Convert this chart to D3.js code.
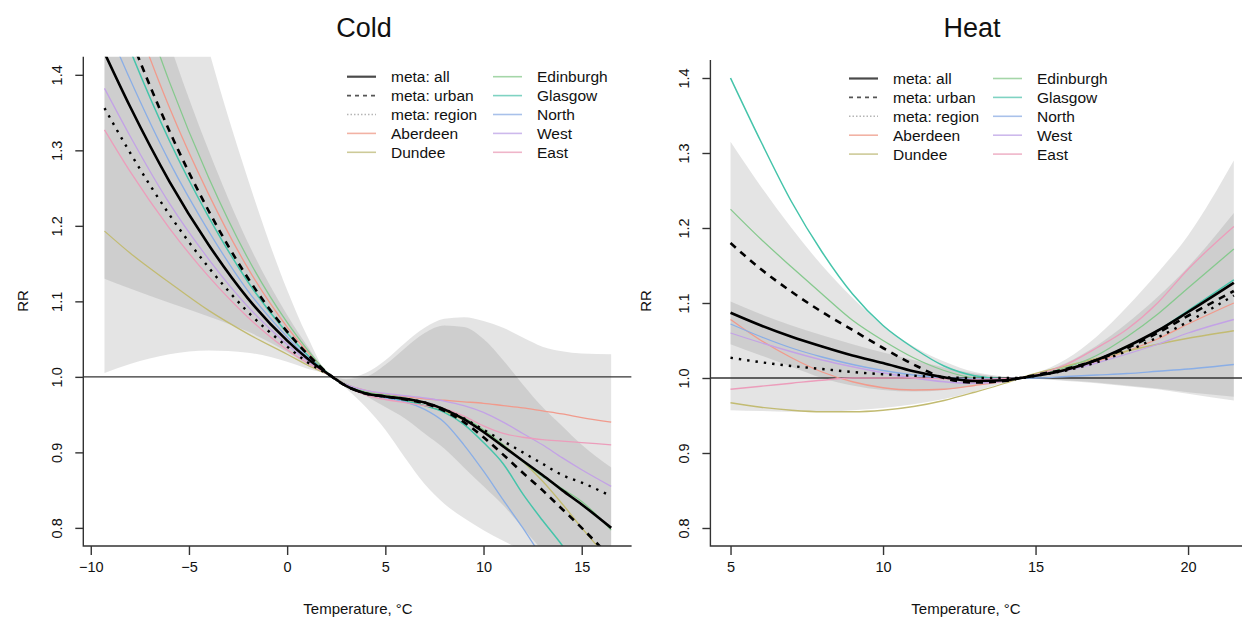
<!DOCTYPE html>
<html>
<head>
<meta charset="utf-8">
<script src="https://cdn.jsdelivr.net/npm/d3@7"></script>
<style>
  body { margin: 0; background: #fff; }
  svg { display: block; font-family: "Liberation Sans", Arial, Helvetica, sans-serif; }
</style>
</head>
<body>
<div id="chart"></div>
<script>
//legend order, both panels
const legendNames = ["meta: all", "meta: urban", "meta: region", "Aberdeen", "Dundee",
                     "Edinburgh", "Glasgow", "North", "West", "East"];

const yTicks = [0.8, 0.9, 1.0, 1.1, 1.2, 1.3, 1.4];
const coldXTicks = [-10, -5, 0, 5, 10, 15];
const heatXTicks = [5, 10, 15, 20];

//cold panel, RR at these temperatures
const coldTemp = [-9.3, -8, -6, -4, -2, 0, 1, 2.3, 3, 4, 5, 6, 7, 8, 9, 10, 11, 12, 13, 14, 15, 16.5];
const coldAll = [1.429, 1.358, 1.259, 1.175, 1.104, 1.048, 1.025, 1.0, 0.988, 0.978, 0.974, 0.971, 0.966, 0.957, 0.944, 0.927, 0.908, 0.889, 0.87, 0.85, 0.831, 0.80];
const coldUrban = [1.541, 1.451, 1.326, 1.22, 1.131, 1.06, 1.031, 1.0, 0.988, 0.978, 0.974, 0.97, 0.965, 0.955, 0.94, 0.92, 0.897, 0.873, 0.85, 0.825, 0.80, 0.76];
const coldRegion = [1.356, 1.297, 1.215, 1.145, 1.086, 1.04, 1.02, 1.0, 0.988, 0.978, 0.974, 0.971, 0.966, 0.957, 0.945, 0.93, 0.915, 0.9, 0.885, 0.87, 0.86, 0.842];
const coldAberdeen = [1.593, 1.494, 1.357, 1.242, 1.144, 1.066, 1.034, 1.0, 0.99, 0.982, 0.977, 0.974, 0.971, 0.969, 0.967, 0.965, 0.962, 0.959, 0.955, 0.951, 0.946, 0.94];
const coldDundee = [1.193, 1.164, 1.125, 1.088, 1.057, 1.03, 1.016, 1.0, 0.99, 0.98, 0.974, 0.969, 0.962, 0.954, 0.943, 0.928, 0.91, 0.888, 0.862, 0.832, 0.80, 0.755];
const coldEdinburgh = [1.648, 1.541, 1.391, 1.264, 1.157, 1.072, 1.037, 1.0, 0.99, 0.98, 0.976, 0.972, 0.966, 0.958, 0.946, 0.93, 0.91, 0.888, 0.868, 0.852, 0.835, 0.797];
const coldGlasgow = [1.52, 1.433, 1.313, 1.212, 1.126, 1.058, 1.03, 1.0, 0.988, 0.978, 0.973, 0.968, 0.962, 0.953, 0.937, 0.913, 0.885, 0.845, 0.81, 0.777, 0.74, 0.69];
const coldNorth = [1.472, 1.394, 1.285, 1.193, 1.114, 1.053, 1.027, 1.0, 0.988, 0.978, 0.972, 0.967, 0.957, 0.94, 0.91, 0.875, 0.837, 0.80, 0.76, 0.72, 0.68, 0.62];
const coldWest = [1.382, 1.319, 1.23, 1.156, 1.093, 1.043, 1.022, 1.0, 0.99, 0.982, 0.978, 0.975, 0.972, 0.968, 0.962, 0.953, 0.94, 0.925, 0.91, 0.893, 0.877, 0.855];
const coldEast = [1.327, 1.272, 1.197, 1.133, 1.079, 1.036, 1.019, 1.0, 0.988, 0.976, 0.97, 0.966, 0.962, 0.958, 0.948, 0.935, 0.925, 0.92, 0.917, 0.915, 0.913, 0.91];
//confidence bands (wide and narrow)
const coldWideHi = [2.06, 1.89, 1.64, 1.434, 1.262, 1.115, 1.055, 1.0, 0.998, 1.005, 1.022, 1.045, 1.065, 1.077, 1.079, 1.074, 1.065, 1.052, 1.04, 1.034, 1.031, 1.03];
const coldWideLo = [1.005, 1.017, 1.03, 1.035, 1.032, 1.02, 1.011, 1.0, 0.985, 0.96, 0.93, 0.893, 0.858, 0.832, 0.813, 0.797, 0.783, 0.77, 0.757, 0.745, 0.735, 0.72];
const coldNarrowHi = [1.734, 1.612, 1.443, 1.30, 1.178, 1.082, 1.042, 1.0, 0.997, 1.0, 1.016, 1.038, 1.058, 1.068, 1.066, 1.05, 1.022, 0.99, 0.96, 0.935, 0.91, 0.88];
const coldNarrowLo = [1.13, 1.117, 1.098, 1.08, 1.06, 1.033, 1.017, 1.0, 0.99, 0.975, 0.96, 0.945, 0.925, 0.905, 0.88, 0.855, 0.83, 0.80, 0.77, 0.74, 0.715, 0.68];

//heat panel
const heatTemp = [5, 6, 7, 8, 9, 10, 11, 12, 13, 14, 14.5, 15, 16, 17, 18, 19, 20, 21.5];
const heatAll = [1.087, 1.07, 1.055, 1.042, 1.03, 1.02, 1.009, 1.001, 0.996, 0.997, 1.0, 1.003, 1.011, 1.024, 1.042, 1.063, 1.088, 1.127];
const heatUrban = [1.18, 1.145, 1.115, 1.088, 1.064, 1.04, 1.018, 1.0, 0.994, 0.996, 1.0, 1.004, 1.012, 1.024, 1.04, 1.06, 1.083, 1.116];
const heatRegion = [1.027, 1.021, 1.016, 1.012, 1.008, 1.005, 1.003, 1.001, 1.0, 1.0, 1.0, 1.003, 1.01, 1.021, 1.036, 1.054, 1.075, 1.11];
const heatAberdeen = [1.078, 1.05, 1.027, 1.008, 0.995, 0.987, 0.984, 0.985, 0.99, 0.996, 1.0, 1.004, 1.012, 1.022, 1.036, 1.052, 1.072, 1.10];
const heatDundee = [0.967, 0.961, 0.957, 0.955, 0.955, 0.957, 0.962, 0.97, 0.981, 0.993, 1.0, 1.006, 1.016, 1.026, 1.036, 1.045, 1.053, 1.063];
const heatEdinburgh = [1.225, 1.185, 1.148, 1.112, 1.077, 1.05, 1.027, 1.01, 1.0, 0.998, 1.0, 1.004, 1.014, 1.03, 1.055, 1.085, 1.12, 1.172];
const heatGlasgow = [1.40, 1.315, 1.235, 1.168, 1.112, 1.07, 1.04, 1.016, 1.003, 0.999, 1.0, 1.003, 1.011, 1.024, 1.042, 1.063, 1.09, 1.131];
const heatNorth = [1.072, 1.055, 1.04, 1.028, 1.018, 1.01, 1.004, 1.0, 0.999, 0.999, 1.0, 1.0, 1.002, 1.004, 1.006, 1.009, 1.012, 1.018];
const heatWest = [1.06, 1.047, 1.035, 1.024, 1.015, 1.007, 1.0, 0.995, 0.993, 0.996, 1.0, 1.003, 1.01, 1.02, 1.032, 1.045, 1.06, 1.078];
const heatEast = [0.985, 0.989, 0.993, 0.997, 1.0, 1.0, 1.0, 0.999, 0.998, 0.999, 1.0, 1.004, 1.018, 1.04, 1.065, 1.10, 1.145, 1.202];
const heatWideHi = [1.315, 1.255, 1.2, 1.15, 1.107, 1.07, 1.042, 1.022, 1.008, 1.002, 1.0, 1.006, 1.025, 1.055, 1.095, 1.14, 1.19, 1.29];
const heatWideLo = [0.957, 0.956, 0.955, 0.955, 0.957, 0.96, 0.965, 0.972, 0.982, 0.994, 1.0, 0.999, 0.996, 0.993, 0.989, 0.985, 0.979, 0.97];
const heatNarrowHi = [1.102, 1.085, 1.07, 1.057, 1.045, 1.034, 1.024, 1.014, 1.006, 1.001, 1.0, 1.005, 1.02, 1.043, 1.073, 1.108, 1.148, 1.22];
const heatNarrowLo = [1.045, 1.03, 1.015, 1.0, 0.99, 0.984, 0.982, 0.984, 0.99, 0.997, 1.0, 0.999, 0.997, 0.994, 0.99, 0.986, 0.981, 0.975];

//line styles for plot and legend
const styles = {
  "meta: all":    {color: "#000", width: 2.6, dash: null, key: "#4a4a4a", keyWidth: 2.2, keyDash: null},
  "meta: urban":  {color: "#000", width: 2.6, dash: "7,6", key: "#555", keyWidth: 1.6, keyDash: "4,4"},
  "meta: region": {color: "#000", width: 2.4, dash: "2.4,6", key: "#b5b5b5", keyWidth: 1.6, keyDash: "1.5,2"},
  "Aberdeen":     {color: "#f19a8c", width: 1.3, key: "#f2b2a4"},
  "Dundee":       {color: "#c2bb72", width: 1.3, key: "#cdca98"},
  "Edinburgh":    {color: "#86c98e", width: 1.3, key: "#a5d6a8"},
  "Glasgow":      {color: "#45c4aa", width: 1.5, key: "#7fd3c2"},
  "North":        {color: "#8aaee6", width: 1.3, key: "#a9c1ea"},
  "West":         {color: "#c3a2e6", width: 1.3, key: "#cdb9ec"},
  "East":         {color: "#ec9dbb", width: 1.3, key: "#efb5c9"}
};

const W = 1242, H = 621;

const svg = d3.select("#chart").append("svg")
  .attr("width", W).attr("height", H)
  .style("background", "#fff");

function toPoints(temp, vals){
  return temp.map((t, i) => ({t: t, v: vals[i]}));
}

function drawPanel(p){

  const x = d3.scaleLinear().domain(p.xDomain).range(p.xRange);
  const y = d3.scaleLinear().domain([0.776, 1.424]).range([546, p.top]);
  const left = p.xRange[0], right = p.xRange[1];

  const clipId = "clip-" + p.id;
  svg.append("clipPath").attr("id", clipId)
    .append("rect")
      .attr("x", left).attr("y", p.top)
      .attr("width", right - left).attr("height", 546 - p.top);

  const plot = svg.append("g").attr("clip-path", "url(#" + clipId + ")");

  const area = d3.area()
    .x(d => x(d.t)).y0(d => y(d.lo)).y1(d => y(d.hi))
    .curve(d3.curveMonotoneX);

  p.bands.forEach(b => {
    const pts = p.temp.map((t, i) => ({t: t, lo: b[0][i], hi: b[1][i]}));
    plot.append("path")
      .datum(pts)
      .attr("d", area)
      .attr("fill", "#7a7a7a")
      .attr("fill-opacity", 0.2);
  });

  plot.append("line")
    .attr("x1", left).attr("x2", right)
    .attr("y1", y(1)).attr("y2", y(1))
    .attr("stroke", "#333").attr("stroke-width", 1.4);

  const line = d3.line().x(d => x(d.t)).y(d => y(d.v)).curve(d3.curveMonotoneX);

  //regions first, meta curves on top
  const order = legendNames.slice(3).concat(legendNames.slice(0, 3).reverse());
  order.forEach(name => {
    const s = styles[name];
    plot.append("path")
      .datum(toPoints(p.temp, p.series[name]))
      .attr("d", line)
      .attr("fill", "none")
      .attr("stroke", s.color)
      .attr("stroke-width", s.width)
      .attr("stroke-dasharray", s.dash || null);
  });

  //L shaped box
  svg.append("path")
    .attr("d", "M" + left + "," + p.top + "V546H" + right)
    .attr("fill", "none").attr("stroke", "#333").attr("stroke-width", 1.4);

  const xAxis = svg.append("g")
    .attr("transform", "translate(0,546)")
    .call(d3.axisBottom(x).tickValues(p.xTicks).tickSize(9).tickSizeOuter(0).tickPadding(7))
  xAxis.select(".domain").remove();
  xAxis.selectAll("line").attr("stroke", "#333").attr("stroke-width", 1.4);
  xAxis.selectAll("text")
    .attr("fill", "#111")
    .style("font-size", "14.5px")
    .style("font-family", "'Liberation Sans', Arial, sans-serif");

  const yAxis = svg.append("g")
    .attr("transform", "translate(" + left + ",0)")
    .call(d3.axisLeft(y).tickValues(yTicks).tickSize(8).tickSizeOuter(0).tickFormat(d3.format(".1f")));
  yAxis.select(".domain").remove();
  yAxis.selectAll("line").attr("stroke", "#333").attr("stroke-width", 1.4);
  yAxis.selectAll("text")
    .attr("x", 0).attr("dy", 0)
    .attr("transform", "translate(-21,0) rotate(-90)")
    .attr("text-anchor", "middle")
    .attr("fill", "#111")
    .style("font-size", "14.5px")
    .style("font-family", "'Liberation Sans', Arial, sans-serif");

  svg.append("text")
    .attr("x", p.titleX).attr("y", 37)
    .attr("text-anchor", "middle")
    .style("font-size", "27px")
    .attr("fill", "#111")
    .text(p.title);

  svg.append("text")
    .attr("x", p.titleX - 6).attr("y", 614)
    .attr("text-anchor", "middle")
    .style("font-size", "15px")
    .attr("fill", "#111")
    .text("Temperature, °C");

  svg.append("text")
    .attr("transform", "translate(" + p.rrX + ",301) rotate(-90)")
    .attr("text-anchor", "middle")
    .style("font-size", "15px")
    .attr("fill", "#111")
    .text("RR");

  //legend, two columns of five
  const leg = svg.append("g");
  legendNames.forEach((name, i) => {
    const col = Math.floor(i / 5), row = i % 5;
    const lx = p.legendX[col], ly = p.legendY + row * 18.9;
    const s = styles[name];
    leg.append("line")
      .attr("x1", lx).attr("x2", lx + 29)
      .attr("y1", ly).attr("y2", ly)
      .attr("stroke", s.key)
      .attr("stroke-width", s.keyWidth || 1.6)
      .attr("stroke-dasharray", s.keyDash || null);
    leg.append("text")
      .attr("x", lx + 44).attr("y", ly)
      .attr("dy", "0.36em")
      .style("font-size", "15.5px")
      .attr("fill", "#111")
      .text(name);
  });
}

drawPanel({
  id: "cold", title: "Cold", titleX: 364, top: 56.7,
  xDomain: [-10.38, 17.54], xRange: [83.3, 631.6], xTicks: coldXTicks,
  rrX: 28, legendX: [347, 493], legendY: 76.7,
  temp: coldTemp,
  series: {"meta: all": coldAll, "meta: urban": coldUrban, "meta: region": coldRegion,
           "Aberdeen": coldAberdeen, "Dundee": coldDundee, "Edinburgh": coldEdinburgh,
           "Glasgow": coldGlasgow, "North": coldNorth, "West": coldWest, "East": coldEast},
  bands: [[coldWideLo, coldWideHi], [coldNarrowLo, coldNarrowHi]]
});

drawPanel({
  id: "heat", title: "Heat", titleX: 972, top: 60,
  xDomain: [4.34, 22.26], xRange: [710.4, 1257], xTicks: heatXTicks,
  rrX: 651, legendX: [849, 993], legendY: 78.5,
  temp: heatTemp,
  series: {"meta: all": heatAll, "meta: urban": heatUrban, "meta: region": heatRegion,
           "Aberdeen": heatAberdeen, "Dundee": heatDundee, "Edinburgh": heatEdinburgh,
           "Glasgow": heatGlasgow, "North": heatNorth, "West": heatWest, "East": heatEast},
  bands: [[heatWideLo, heatWideHi], [heatNarrowLo, heatNarrowHi]]
});
</script>
</body>
</html>
